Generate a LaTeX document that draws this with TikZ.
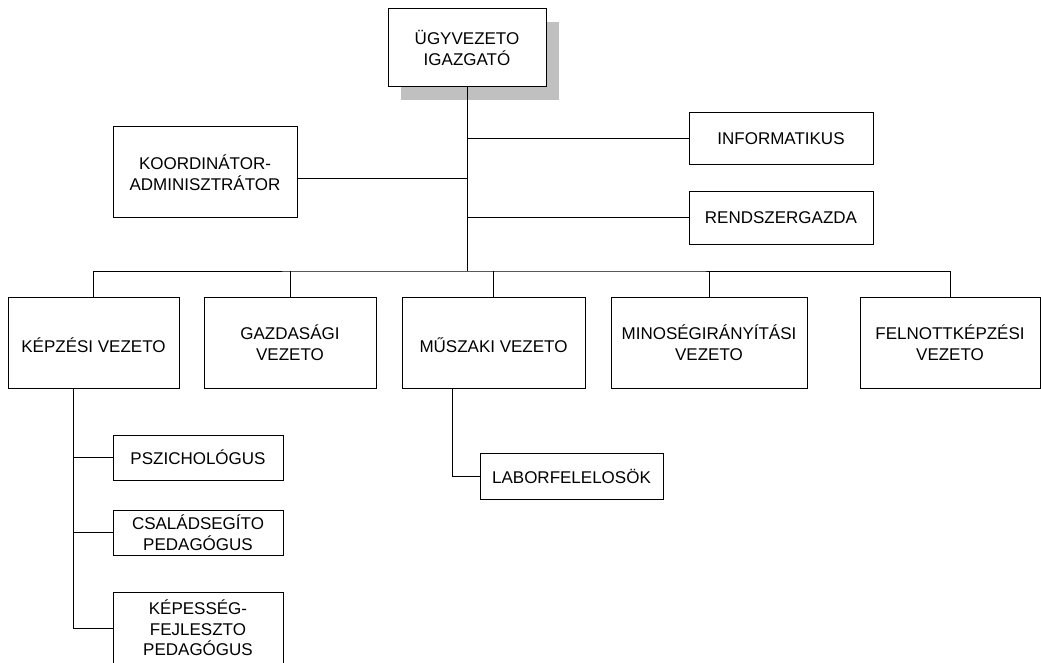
\documentclass[tikz,border=0pt]{standalone}
\usepackage{fontspec}
\setmainfont{Liberation Sans}
\usetikzlibrary{positioning,calc,shadows}
\definecolor{shadowgray}{RGB}{192,192,192}
\tikzset{unit/.style={draw, fill=white, align=center, inner sep=0pt, line width=1pt,
    font=\fontsize{17}{20.5}\selectfont},
  boxsize/.style 2 args={minimum width=#1, minimum height=#2}}

\begin{document}
\begin{tikzpicture}[x=1pt, y=-1pt, line width=1pt]
  \useasboundingbox (0,0) rectangle (1041,663);
  \node[unit, boxsize={158}{78},
    general shadow={fill=shadowgray, shadow xshift=13pt, shadow yshift=-13pt}]
    (ceo) at (467,48) {ÜGYVEZETO\\IGAZGATÓ};  %top of the chart
  \node[unit, boxsize={184}{91}] (coord) at (205,172.5) {KOORDINÁTOR-\\ADMINISZTRÁTOR};
  \node[unit, boxsize={184}{52}] (info) at (781,139) {INFORMATIKUS};
  \node[unit, boxsize={184}{52}] (rend) at (781,218) {RENDSZERGAZDA};

  % leaders
  \node[unit, boxsize={171}{91}] (kv) at (93.5,342.5) {{}\\KÉPZÉSI VEZETO};
  \node[unit, boxsize={172}{91}] (gv) at (290,342.5) {GAZDASÁGI\\VEZETO};
  \node[unit, boxsize={183}{91}] (mv) at (493.5,342.5) {{}\\MŰSZAKI VEZETO};
  \node[unit, boxsize={196}{91}] (qv) at (709,342.5) {MINOSÉGIRÁNYÍTÁSI\\VEZETO};
  \node[unit, boxsize={180}{91}] (fv) at (950,342.5) {FELNOTTKÉPZÉSI\\VEZETO};

  \node[unit, boxsize={170}{45}] (psz) at (198,457.5) {PSZICHOLÓGUS};
  \node[unit, boxsize={170}{45}] (csa) at (198,532.5) {CSALÁDSEGÍTO\\PEDAGÓGUS};
  \node[unit, boxsize={170}{72}] (kep) at (198,628) {KÉPESSÉG-\\FEJLESZTO\\PEDAGÓGUS};
  \node[unit, boxsize={183}{46}] (lab) at (571.5,476) {LABORFELELOSÖK};

  \coordinate (bus) at (467,271);
  \coordinate (cj) at (467,179);
  \draw (ceo.south) -- (bus);
  \draw (cj) -- (cj -| coord.east);
  \draw (info.west) -- (info.west -| bus);
  \draw (rend.west) -- (rend.west -| bus);
  \draw (kv.north) |- (bus) -| (fv.north);
  \foreach \n in {gv,mv,qv}
    \draw (\n.north) -- (\n.north |- bus);

  \coordinate (kd) at ($(kv.south west)+(66,0)$);
  \draw (kd) |- (kep.west);
  \foreach \n in {psz,csa}
    \draw (\n.west) -- (\n.west -| kd);
  \coordinate (md) at ($(mv.south west)+(51,0)$);
  \draw (md) |- (lab.west);
\end{tikzpicture}
\end{document}
